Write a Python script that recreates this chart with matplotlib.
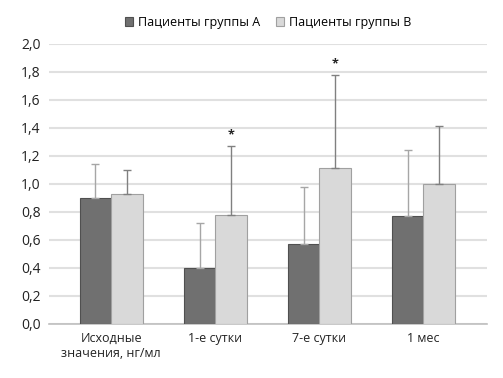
import matplotlib.pyplot as plt
import numpy as np

categories = ["Исходные\nзначения, нг/мл", "1-е сутки", "7-е сутки", "1 мес"]
group_a = [0.90, 0.40, 0.57, 0.77]
group_b = [0.93, 0.78, 1.11, 1.00]
err_a = [0.24, 0.32, 0.41, 0.47]
err_b = [0.17, 0.49, 0.67, 0.41]
significant = [False, True, True, False]

plt.rcParams['font.family'] = ['Open Sans', 'DejaVu Sans']

fig = plt.figure(figsize=(5.03, 3.78), dpi=100)
ax = fig.add_axes([0.097, 0.143, 0.871, 0.741])

x = np.arange(len(categories))
w = 0.303

ax.bar(x - w / 2, group_a, w, color='#707070', edgecolor='#505050', linewidth=0.8,
       label='Пациенты группы А', zorder=3)
ax.bar(x + w / 2, group_b, w, color='#d9d9d9', edgecolor='#a0a0a0', linewidth=0.8,
       label='Пациенты группы В', zorder=3)

ax.errorbar(x - w / 2, group_a, yerr=[np.zeros(4), err_a], fmt='none',
            ecolor='#a6a6a6', elinewidth=1, capsize=3, capthick=1, zorder=4)
ax.errorbar(x + w / 2, group_b, yerr=[np.zeros(4), err_b], fmt='none',
            ecolor='#808080', elinewidth=1, capsize=3, capthick=1, zorder=4)

for i, s in enumerate(significant):
    if s:
        ax.text(x[i] + w / 2, group_b[i] + err_b[i] + 0.08, '*', ha='center', va='center',
                fontsize=9, color='#222222', fontweight='bold')

ax.set_ylim(0, 2.0)
ax.set_xlim(-0.60, 3.61)
ax.set_yticks(np.arange(0, 2.01, 0.2))
ax.set_yticklabels([f"{v:.1f}".replace('.', ',') for v in np.arange(0, 2.01, 0.2)])
ax.set_xticks(x)
ax.set_xticklabels(categories)
ax.tick_params(axis='both', length=0, labelsize=9, colors='#222222', pad=6)
ax.tick_params(axis='y', labelsize=10)
ax.grid(axis='y', color='#e0e0e0', linewidth=1.5, zorder=0)
for side in ['top', 'right', 'left']:
    ax.spines[side].set_visible(False)
ax.spines['bottom'].set_color('#bfbfbf')
ax.spines['bottom'].set_linewidth(1.2)

fig.legend(loc='center', bbox_to_anchor=(0.533, 0.94), ncol=2, frameon=False,
           fontsize=9, handlelength=0.7, handleheight=0.7, columnspacing=1.2,
           handletextpad=0.4)

fig.savefig('out.png', dpi=100)
